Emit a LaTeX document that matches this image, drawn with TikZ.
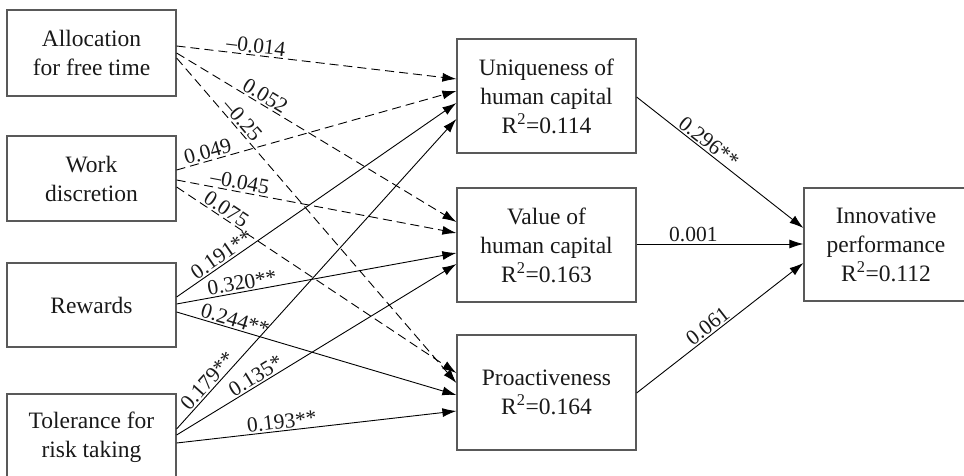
\documentclass[tikz,border=0pt]{standalone}
\usepackage{fontspec}
\setmainfont{Liberation Serif}
\usetikzlibrary{arrows.meta,calc}
\begin{document}
\begin{tikzpicture}[x=1pt,y=-1pt,
 box/.style={draw=black!65, line width=1.2pt, align=center, inner sep=0pt, font=\fontsize{23.5}{29}\selectfont, text=black!90},
 lbl/.style={font=\fontsize{21.5}{24}\selectfont, sloped, above, inner sep=1.5pt, text=black!90},
 sol/.style={line width=0.9pt, -{Latex[length=14pt,width=9pt]}},
 dsh/.style={sol, dash pattern=on 9pt off 5pt}]
\useasboundingbox (0,0) rectangle (964,476);
\clip (0,0) rectangle (964,476);
% left boxes
\node[box, minimum width=169pt, minimum height=86pt] (alloc) at (91.5,53) {Allocation\\for free time};
\node[box, minimum width=169pt, minimum height=85pt] (work) at (91.5,178.5) {Work\\discretion};
\node[box, minimum width=169pt, minimum height=84pt] (rew) at (91.5,305) {Rewards};
\node[box, minimum width=169pt, minimum height=86pt] (tol) at (91.5,437) {Tolerance for\\risk taking};
% mediators
\node[box, minimum width=179pt, minimum height=114pt] (uniq) at (546.5,96) {Uniqueness of\\human capital\\R\textsuperscript{2}=0.114};
\node[box, minimum width=179pt, minimum height=114pt] (val) at (546.5,245) {Value of\\human capital\\R\textsuperscript{2}=0.163};
\node[box, minimum width=179pt, minimum height=115pt] (pro) at (546.5,392.5) {Proactiveness\\R\textsuperscript{2}=0.164};
% outcome
\node[box, minimum width=164pt, minimum height=113pt] (inn) at (886,244.5) {Innovative\\performance\\R\textsuperscript{2}=0.112};
% allocation
\draw[dsh] ($(alloc.east)+(0,-7)$) -- node[lbl,pos=0.28]{–0.014} ($(uniq.west)+(0,-17)$);
\draw[dsh] ($(alloc.east)+(0,0)$) -- node[lbl,pos=0.30]{0.052} ($(val.west)+(0,-23)$);
\draw[dsh] ($(alloc.east)+(0,5)$) -- node[lbl,pos=0.21]{–0.25} ($(pro.west)+(0,-9.5)$);
% work
\draw[dsh] ($(work.east)+(0,-8.5)$) -- node[lbl,pos=0.12]{0.049} ($(uniq.west)+(0,-5)$);
\draw[dsh] ($(work.east)+(0,1.5)$) -- node[lbl,pos=0.22]{–0.045} ($(val.west)+(0,-12)$);
\draw[dsh] ($(work.east)+(0,8.5)$) -- node[lbl,pos=0.16]{0.075} ($(pro.west)+(0,-19.5)$);
% rewards
\draw[sol] ($(rew.east)+(0,-8)$) -- node[lbl,pos=0.18]{0.191**} ($(uniq.west)+(0,7)$);
\draw[sol] ($(rew.east)+(0,-1)$) -- node[lbl,pos=0.24]{0.320**} ($(val.west)+(0,8)$);
\draw[sol] ($(rew.east)+(0,7)$) -- node[lbl,pos=0.2]{0.244**} ($(pro.west)+(0,2.5)$);
% tolerance
\draw[sol] ($(tol.east)+(0,-8)$) -- node[lbl,pos=0.135]{0.179**} ($(uniq.west)+(0,23)$);
\draw[sol] ($(tol.east)+(0,-2)$) -- node[lbl,pos=0.30]{0.135*} ($(val.west)+(0,19)$);
\draw[sol] ($(tol.east)+(0,6)$) -- node[lbl,pos=0.38]{0.193**} ($(pro.west)+(0,18.5)$);
% mediators to outcome
\draw[sol] ($(uniq.east)+(0,1)$) -- node[lbl,pos=0.40]{0.296**} ($(inn.west)+(0,-16.5)$);
\draw[sol] ($(val.east)+(0,-1)$) -- node[lbl,pos=0.34]{0.001} ($(inn.west)+(0,-0.5)$);
\draw[sol] ($(pro.east)+(0,0.5)$) -- node[lbl,pos=0.46]{0.061} ($(inn.west)+(0,18.5)$);
\end{tikzpicture}
\end{document}
